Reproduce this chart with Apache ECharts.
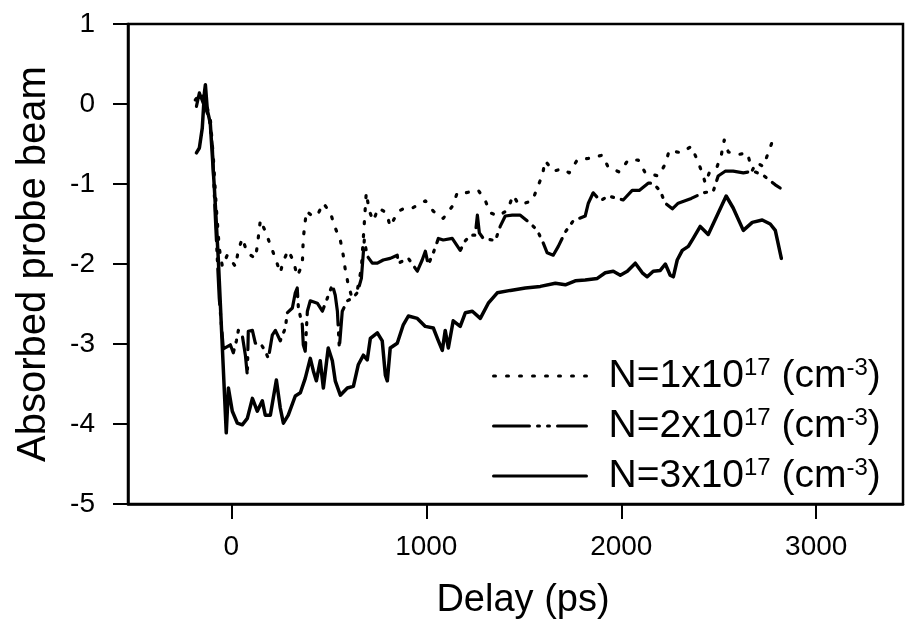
<!DOCTYPE html>
<html>
<head>
<meta charset="utf-8">
<script src="https://cdn.jsdelivr.net/npm/echarts@6/dist/echarts.min.js"></script>
<style>
html,body{margin:0;padding:0;background:#fff;}
#chart{width:907px;height:627px;}
</style>
</head>
<body>
<div id="chart"></div>
<script>
// ---- data (delay in ps, absorbed probe beam, arb. units) ----
const seriesNames = ['N=1x10{s|17} (cm{s|-3})', 'N=2x10{s|17} (cm{s|-3})', 'N=3x10{s|17} (cm{s|-3})'];
const xTicks = [0, 1000, 2000, 3000];
const yTicks = [1, 0, -1, -2, -3, -4, -5];

const delay1 = [-185,-159,-138,-123,-108,-92,-77,-62,-46,-21,21,36,56,82,123,133,149,174,200,226,251,267,292,318,338,364,369,385,415,441,472,508,533,559,574,585,600,615,646,667,682,692,708,728,754,795,815,856,892,928,959,995,1036,1087,1133,1159,1200,1267,1303,1328,1369,1415,1446,1472,1503,1544,1569,1595,1610,1651,1697,1733,1774,1831,1903,1933,1990,2036,2087,2123,2190,2226,2246,2308,2359,2390,2415,2431,2456,2492,2513,2528,2549,2605,2646,2672,2692,2728,2754,2779];
const absorb1 = [0.05,0.14,0.08,-0.05,-0.18,-0.68,-1.30,-1.80,-2.03,-1.89,
-2.03,-1.83,-1.68,-1.86,-1.93,-1.78,-1.45,-1.59,-1.76,-1.93,
-2.11,-1.96,-1.83,-1.96,-2.15,-2.01,-1.68,-1.34,-1.40,-1.39,
-1.24,-1.36,-1.55,-1.70,-1.89,-2.08,-2.26,-2.39,-2.33,-2.05,
-1.49,-1.11,-1.34,-1.46,-1.30,-1.36,-1.53,-1.34,-1.30,-1.30,
-1.26,-1.21,-1.34,-1.43,-1.28,-1.11,-1.11,-1.08,-1.21,-1.36,
-1.40,-1.33,-1.14,-1.25,-1.24,-1.21,-1.05,-0.89,-0.71,-0.84,
-0.81,-0.86,-0.70,-0.68,-0.64,-0.79,-0.85,-0.70,-0.70,-0.86,
-0.90,-0.75,-0.58,-0.61,-0.53,-0.70,-0.86,-0.99,-0.83,-0.78,
-0.64,-0.45,-0.60,-0.63,-0.61,-0.83,-0.73,-0.78,-0.61,-0.44];

const delay2 = [-179,-164,-144,-128,-113,-97,-82,-62,-41,-5,
10,26,36,56,72,82,87,108,123,149,
174,190,210,226,251,277,287,313,328,338,
344,364,369,379,390,405,441,467,492,518,
533,544,554,569,595,620,646,667,682,697,
723,749,779,815,851,856,908,954,979,995,
1010,1036,1062,1087,1133,1174,1200,1226,1251,1262,
1272,1292,1338,1354,1379,1405,1441,1482,1533,1569,
1595,1620,1651,1677,1713,1754,1815,1831,1856,1892,
1933,2010,2056,2092,2138,2164,2200,2226,2262,2292,
2359,2420,2472,2497,2533,2574,2626,2677,2728,2790,
2815];
const absorb2 = [-0.03,0.14,0.01,-0.08,-0.18,-0.55,-1.43,-2.43,-3.06,-3.01,
-3.11,-2.96,-2.83,-2.89,-3.14,-3.39,-2.84,-2.83,-2.99,-2.99,
-3.09,-3.18,-2.89,-2.83,-2.96,-2.80,-2.61,-2.55,-2.36,-2.30,
-2.55,-2.76,-3.01,-3.09,-2.59,-2.46,-2.49,-2.59,-2.43,-2.26,
-2.39,-2.59,-3.05,-2.59,-2.46,-2.43,-2.36,-2.18,-1.70,-1.90,
-1.99,-1.99,-1.95,-1.93,-1.89,-1.99,-1.93,-2.09,-1.95,-1.84,
-2.01,-1.86,-1.68,-1.70,-1.68,-1.83,-1.71,-1.64,-1.64,-1.39,
-1.61,-1.68,-1.70,-1.71,-1.53,-1.40,-1.39,-1.39,-1.49,-1.58,
-1.71,-1.86,-1.89,-1.78,-1.60,-1.46,-1.40,-1.24,-1.11,-1.21,
-1.15,-1.20,-1.08,-1.08,-0.99,-0.99,-1.09,-1.24,-1.31,-1.24,
-1.18,-1.11,-1.09,-0.90,-0.84,-0.84,-0.86,-0.84,-0.89,-1.01,
-1.05];

const delay3 = [-179,-164,-149,-138,-133,-123,-108,-87,-67,-46,
-26,-15,5,31,56,82,108,133,159,174,
200,231,251,267,292,328,354,379,405,421,
436,456,472,497,518,533,559,595,626,651,
677,697,713,749,774,790,800,815,851,882,
908,954,995,1036,1062,1082,1097,1113,1138,1174,
1200,1236,1277,1318,1364,1431,1508,1585,1662,1713,
1764,1815,1877,1918,1959,1995,2031,2072,2108,2133,
2164,2200,2226,2251,2267,2287,2313,2344,2369,2405,
2446,2492,2538,2574,2626,2672,2723,2764,2790,2821];
const absorb3 = [-0.61,-0.55,-0.30,0.14,0.24,-0.08,-0.24,-1.05,-1.93,-3.05,
-4.11,-3.55,-3.84,-3.99,-4.01,-3.93,-3.68,-3.84,-3.71,-3.89,
-3.89,-3.45,-3.80,-3.99,-3.89,-3.65,-3.61,-3.43,-3.18,-3.34,
-3.46,-3.21,-3.55,-3.05,-3.21,-3.46,-3.64,-3.55,-3.53,-3.26,
-3.14,-3.20,-2.93,-2.86,-2.96,-3.39,-3.46,-3.05,-2.99,-2.76,
-2.65,-2.68,-2.78,-2.80,-2.96,-3.08,-2.83,-3.05,-2.71,-2.78,
-2.61,-2.59,-2.68,-2.49,-2.36,-2.33,-2.30,-2.28,-2.24,-2.26,
-2.21,-2.20,-2.18,-2.11,-2.09,-2.14,-2.09,-1.99,-2.11,-2.16,
-2.09,-2.08,-2.00,-2.14,-2.16,-1.95,-1.83,-1.78,-1.68,-1.53,
-1.63,-1.39,-1.15,-1.30,-1.58,-1.48,-1.45,-1.50,-1.58,-1.93];

// ---- build ----
const pairs = (xs, ys) => xs.map((x, i) => [x, ys[i]]);
const FONT = "'Liberation Sans', Arial, Helvetica, sans-serif";
const styles = [
  { type: [2, 11], width: 3.2, cap: 'round' },
  { type: [36, 8, 2, 8, 2, 8], width: 3.2, cap: 'round' },
  { type: 'solid', width: 3.5, cap: 'round' }
];
const dataSets = [pairs(delay1, absorb1), pairs(delay2, absorb2), pairs(delay3, absorb3)];

const chart = echarts.init(document.getElementById('chart'));
chart.setOption({
  animation: false,
  backgroundColor: '#fff',
  textStyle: { fontFamily: FONT, color: '#000' },
  grid: { left: 128, top: 24, right: 4, bottom: 123, show: true, borderColor: '#000', borderWidth: 2.5, backgroundColor: 'transparent' },
  xAxis: {
    type: 'value', min: -530, max: 3445,
    name: 'Delay (ps)', nameLocation: 'middle', nameGap: 78,
    nameTextStyle: { fontSize: 38, color: '#000', fontFamily: FONT, padding: [0, 0, 0, 15] },
    axisLine: { show: true, onZero: false, lineStyle: { color: '#000', width: 2.5 } },
    axisTick: { show: true, inside: false, length: 15, lineStyle: { color: '#000', width: 2 }, customValues: xTicks },
    axisLabel: { fontSize: 28, color: '#000', fontFamily: FONT, margin: 29, customValues: xTicks, formatter: v => String(v) },
    splitLine: { show: false }
  },
  yAxis: {
    type: 'value', min: -5, max: 1, interval: 1,
    name: 'Absorbed probe beam', nameLocation: 'middle', nameGap: 74,
    nameTextStyle: { fontSize: 40, color: '#000', fontFamily: FONT },
    axisLine: { show: true, onZero: false, lineStyle: { color: '#000', width: 2.5 } },
    axisTick: { show: true, inside: false, length: 15, lineStyle: { color: '#000', width: 2 } },
    axisLabel: { fontSize: 28, color: '#000', fontFamily: FONT, margin: 33, customValues: yTicks, formatter: v => String(v) },
    splitLine: { show: false }
  },
  legend: {
    orient: 'vertical', left: 487, top: 351,
    itemWidth: 93, itemHeight: 14, itemGap: 10,
    itemStyle: { opacity: 0, color: 'rgba(0,0,0,0)', borderWidth: 0 },
    data: seriesNames.map((n, i) => ({ name: n, lineStyle: { color: '#000', type: styles[i].type, width: 3, cap: styles[i].cap } })),
    textStyle: {
      fontSize: 39, lineHeight: 40, color: '#000', fontFamily: FONT, padding: [0, 0, 0, 17],
      rich: { s: { fontSize: 24, lineHeight: 24, verticalAlign: 'top', color: '#000', fontFamily: FONT } }
    }
  },
  series: dataSets.map((d, i) => ({
    name: seriesNames[i],
    type: 'line',
    data: d,
    symbol: 'none',
    smooth: false,
    lineStyle: { color: '#000', type: styles[i].type, width: styles[i].width, cap: styles[i].cap, join: 'round' },
    itemStyle: { color: '#000' }
  }))
});
</script>
</body>
</html>
